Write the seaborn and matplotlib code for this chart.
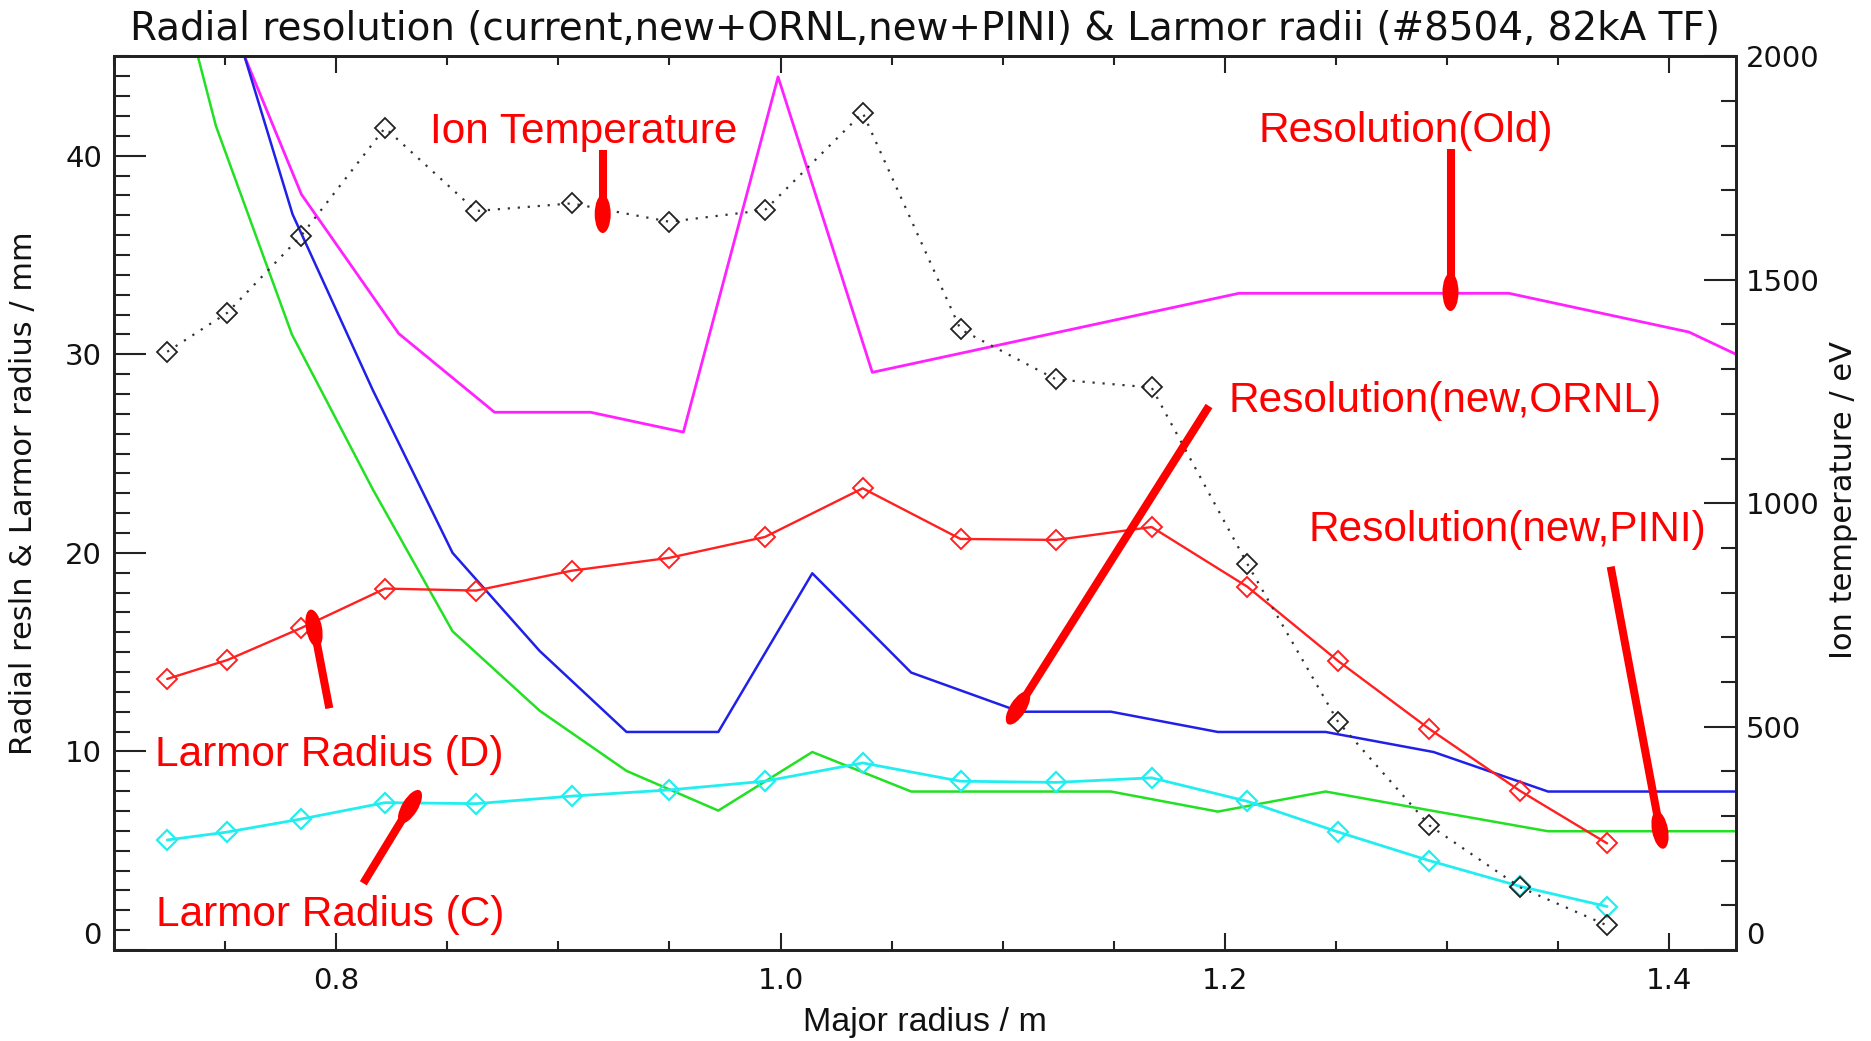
import numpy as np
import pandas as pd
import matplotlib
matplotlib.use("Agg")
import matplotlib.pyplot as plt
import seaborn as sns
from matplotlib.lines import Line2D
from matplotlib.patches import Ellipse
from matplotlib.transforms import IdentityTransform
from matplotlib.ticker import MultipleLocator

# ---------------- data ----------------
# major radius grid of the diagnostic points (m)
R_diag = [0.724, 0.751, 0.784, 0.822, 0.863, 0.906, 0.950, 0.993, 1.037,
          1.081, 1.124, 1.167, 1.210, 1.251, 1.292, 1.333, 1.372]
ion_temp = [1339, 1426, 1597, 1840, 1654, 1671, 1630, 1656, 1874,
            1389, 1277, 1259, 865, 510, 279, 140, 55]          # eV
larmor_D = [13.65, 14.6, 16.2, 18.2, 18.1, 19.1, 19.75, 20.8, 23.25,
            20.7, 20.65, 21.3, 18.3, 14.55, 11.13, 8.0, 5.37]   # mm
larmor_C = [5.54, 5.94, 6.59, 7.42, 7.37, 7.75, 8.06, 8.5, 9.42,
            8.5, 8.44, 8.67, 7.49, 5.94, 4.5, 3.2, 2.19]        # mm

# resolution (old)
R_old = [0.7588, 0.7844, 0.8282, 0.8713, 0.9145, 0.9563, 0.9989, 1.0413,
         1.2063, 1.3278, 1.4088, 1.43]
res_old = [45.0, 38.05, 31.04, 27.08, 27.08, 26.08, 43.97, 29.09,
           33.07, 33.07, 31.12, 30.0]
# resolution (new, ORNL)
R_ornl = [0.7588, 0.7804, 0.8165, 0.8524, 0.8916, 0.9307, 0.9720, 1.0143,
          1.0588, 1.1077, 1.1487, 1.1968, 1.2453, 1.2939, 1.3454, 1.43]
res_ornl = [45.0, 37.05, 28.2, 20.0, 15.06, 10.98, 10.98, 18.97,
            13.97, 12.0, 12.0, 10.98, 10.98, 9.97, 7.98, 7.98]
# resolution (new, PINI)
R_pini = [0.7378, 0.7459, 0.7801, 0.8165, 0.8524, 0.8916, 0.9307, 0.9720,
          1.0143, 1.0588, 1.1077, 1.1487, 1.1968, 1.2453, 1.2939, 1.3454, 1.43]
res_pini = [45.0, 41.5, 31.0, 23.2, 16.05, 12.05, 9.02, 7.02,
            9.97, 7.98, 7.98, 7.98, 6.97, 7.98, 7.0, 5.98, 5.98]

x_ticks = [0.8, 1.0, 1.2, 1.4]
y_left_ticks = [0, 10, 20, 30, 40]
y_right_ticks = [0, 500, 1000, 1500, 2000]

title = "Radial resolution (current,new+ORNL,new+PINI) & Larmor radii (#8504, 82kA TF)"
xlabel = "Major radius / m"
ylabel_left = "Radial resln & Larmor radius / mm"
ylabel_right = "Ion temperature / eV"

annot_labels = ["Ion Temperature", "Resolution(Old)", "Resolution(new,ORNL)",
                "Resolution(new,PINI)", "Larmor Radius (D)", "Larmor Radius (C)"]

# ---------------- style ----------------
sns.set_style("ticks")
plt.rcParams["font.family"] = ["Liberation Sans", "DejaVu Sans"]
plt.rcParams["axes.linewidth"] = 2.0

W, H = 1871, 1041
fig = plt.figure(figsize=(W / 100, H / 100), dpi=100)
fig.patch.set_facecolor("white")
ax = fig.add_axes([113.9 / W, 1 - 950 / H, (1736 - 113.9) / W, (950 - 56.4) / H])
ax2 = ax.twinx()

line_kw = dict(ax=ax, sort=False, estimator=None, legend=False)
sns.lineplot(x=R_old, y=res_old, color="#ff22ff", lw=2.0, **line_kw)
sns.lineplot(x=R_ornl, y=res_ornl, color="#2020e8", lw=1.8, **line_kw)
sns.lineplot(x=R_pini, y=res_pini, color="#22e022", lw=1.8, **line_kw)
sns.lineplot(x=R_diag, y=larmor_D, color="#ff2020", lw=1.7, marker="D",
             markersize=10.5, markerfacecolor="none", markeredgecolor="#ff2020",
             markeredgewidth=1.4, **line_kw)
sns.lineplot(x=R_diag, y=larmor_C, color="#22eef0", lw=2.0, marker="D",
             markersize=10.5, markerfacecolor="none", markeredgecolor="#22eef0",
             markeredgewidth=1.6, **line_kw)
sns.lineplot(x=R_diag, y=ion_temp, ax=ax2, sort=False, estimator=None, legend=False,
             color="#333333", lw=1.6, linestyle=(0, (1, 3.5)), marker="D",
             markersize=10.5, markerfacecolor="none", markeredgecolor="#222222",
             markeredgewidth=1.3)

ax.set_xlim(0.70, 1.43)
ax.set_ylim(0, 45)
ax2.set_ylim(0, 2000)

ax.set_xticks(x_ticks)
ax.set_xticklabels([f"{v:.1f}" for v in x_ticks])
ax.xaxis.set_minor_locator(MultipleLocator(0.05))
ax.set_yticks(y_left_ticks)
ax.set_yticklabels([str(v) for v in y_left_ticks])
ax.yaxis.set_minor_locator(MultipleLocator(1))
ax2.set_yticks(y_right_ticks)
ax2.set_yticklabels([str(v) for v in y_right_ticks])
ax2.yaxis.set_minor_locator(MultipleLocator(100))

for a in (ax, ax2):
    for s in a.spines.values():
        s.set_visible(True)
        s.set_linewidth(2.0)
        s.set_color("#222222")

ax.tick_params(axis="x", which="both", direction="in", top=True, bottom=True,
               width=1.5, color="#222222", pad=12)
ax.tick_params(axis="x", which="major", length=12.5)
ax.tick_params(axis="x", which="minor", length=6.5)
ax.tick_params(axis="y", which="both", direction="in", left=True, right=False,
               width=1.5, color="#222222", pad=8.6)
ax.tick_params(axis="y", which="major", length=23)
ax.tick_params(axis="y", which="minor", length=11.5)
ax2.tick_params(axis="y", which="both", direction="in", right=True, left=False,
                width=1.5, color="#222222", pad=7.2)
ax2.tick_params(axis="y", which="major", length=23)
ax2.tick_params(axis="y", which="minor", length=11)

for lab in ax.get_xticklabels() + ax.get_yticklabels() + ax2.get_yticklabels():
    lab.set_fontfamily("DejaVu Sans")
    lab.set_fontsize(21)
    lab.set_color("#111111")
ax.get_yticklabels()[0].set_va("bottom")
ax2.get_yticklabels()[0].set_va("bottom")

ax.set_title(title, fontsize=28, y=(950 - 39.1) / 894, va="baseline", pad=0,
             family="DejaVu Sans", color="#111111")
ax.set_xlabel(xlabel, fontsize=24.5, family="Liberation Sans", color="#111111")
ax.xaxis.label.set_va("baseline")
ax.xaxis.set_label_coords(0.5, -(1030.7 - 950) / 894)
ax.set_ylabel(ylabel_left, fontsize=22, family="DejaVu Sans", color="#111111")
ax.yaxis.label.set_va("center")
ax.yaxis.set_label_coords((24 - 113.9) / 1622, (950 - 493) / 894)
ax2.set_ylabel(ylabel_right, fontsize=22, family="DejaVu Sans", color="#111111")
ax2.yaxis.label.set_va("center")
ax2.yaxis.set_label_coords((1843 - 113.9) / 1622, (950 - 500) / 894)

# ---------------- annotations (red labels with pointers) ----------------
annot_text_pos = [(583.6, 142.6), (1405.5, 142.0), (1445.0, 412.0),
                  (1507.5, 541.0), (329.7, 765.7), (329.7, 926.0)]
for s, (tx, ty) in zip(annot_labels, annot_text_pos):
    fig.text(tx / W, 1 - ty / H, s, ha="center", va="baseline", color="#ff0000",
             fontsize=30.5, family="Liberation Sans")

pointers = [((602.7, 150), (602.7, 214)),
            ((1450.5, 149), (1450.5, 292)),
            ((1209, 406), (1018, 708)),
            ((1610.7, 566.7), (1660, 830)),
            ((329.3, 708.3), (314, 628.3)),
            ((363.3, 883.3), (410, 806.7))]
for (x0, y0), (x1, y1) in pointers:
    X0, Y0, X1, Y1 = x0, H - y0, x1, H - y1
    ang = np.degrees(np.arctan2(Y1 - Y0, X1 - X0))
    fig.add_artist(Line2D([X0, X1], [Y0, Y1], transform=IdentityTransform(),
                          color="#ff0000", lw=5.8, solid_capstyle="butt"))
    fig.add_artist(Ellipse((X1, Y1), 38, 16, angle=ang, transform=IdentityTransform(),
                           facecolor="#ff0000", edgecolor="none"))

fig.savefig("out.png", dpi=100)
